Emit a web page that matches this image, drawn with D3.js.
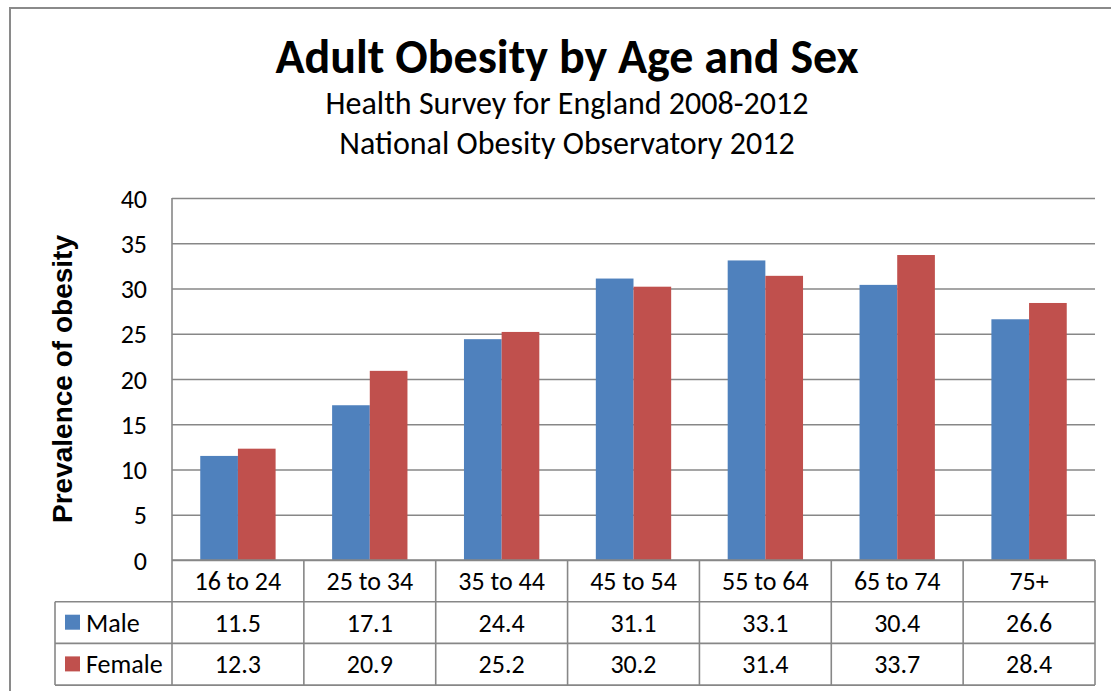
<!DOCTYPE html>
<html>
<head>
<meta charset="utf-8">
<script src="https://cdnjs.cloudflare.com/ajax/libs/d3/7.8.5/d3.min.js"></script>
<style>
  body { margin: 0; background: #fff; }
  svg { display: block; }
  text { fill: #000; }
</style>
</head>
<body>
<script>
const categories = ['16 to 24', '25 to 34', '35 to 44', '45 to 54', '55 to 64', '65 to 74', '75+'];
const seriesNames = ['Male', 'Female'];
const maleValues = [11.5, 17.1, 24.4, 31.1, 33.1, 30.4, 26.6];
const femaleValues = [12.3, 20.9, 25.2, 30.2, 31.4, 33.7, 28.4];
const yTicks = [0, 5, 10, 15, 20, 25, 30, 35, 40];

const colors = { Male: '#4F81BD', Female: '#C0504D' };
const gridColor = '#878787';
const calibri = "Carlito, Calibri, Lato, sans-serif";

const width = 1111, height = 691;
const plot = { left: 172, right: 1095, top: 198, bottom: 560 };
const tableLeft = 55;
const rowH = 41.7;

const svg = d3.select('body').append('svg')
  .attr('width', width)
  .attr('height', height);

// outer chart border (right and bottom run off the picture)
svg.append('rect')
  .attr('x', 10).attr('y', 8)
  .attr('width', 1200).attr('height', 800)
  .attr('fill', 'none')
  .attr('stroke', '#8a8a8a')
  .attr('stroke-width', 2);

// titles
svg.append('text')
  .attr('x', 567).attr('y', 73)
  .attr('text-anchor', 'middle')
  .style('font-family', calibri)
  .style('font-weight', 'bold')
  .style('font-size', '48px')
  .text('Adult Obesity by Age and Sex');

const subs = ['Health Survey for England 2008-2012', 'National Obesity Observatory 2012'];
svg.selectAll('.sub').data(subs).enter()
  .append('text')
  .attr('class', 'sub')
  .attr('x', 567)
  .attr('y', (d, i) => 114 + i * 40)
  .attr('text-anchor', 'middle')
  .style('font-family', calibri)
  .style('font-size', '32px')
  .text(d => d);

const x = d3.scaleBand()
  .domain(categories)
  .range([plot.left, plot.right])
  .padding(0);

const x1 = d3.scaleBand()
  .domain(seriesNames)
  .range([0, x.bandwidth()])
  .paddingInner(0)
  .paddingOuter(0.75);

const y = d3.scaleLinear()
  .domain([0, 40])
  .range([plot.bottom, plot.top]);

// gridlines
const yAxis = d3.axisLeft(y)
  .tickValues(yTicks)
  .tickSize(-(plot.right - plot.left))
  .tickPadding(25)
  .tickFormat(d3.format('d'));

const yg = svg.append('g')
  .attr('transform', `translate(${plot.left},0)`)
  .call(yAxis);
yg.select('.domain').remove();
yg.selectAll('line')
  .attr('stroke', gridColor)
  .attr('stroke-width', 1.6);
yg.selectAll('text')
  .style('font-family', calibri)
  .style('font-size', '26px')
  .attr('dy', '0.35em');

// left axis line
svg.append('line')
  .attr('x1', plot.left).attr('x2', plot.left)
  .attr('y1', plot.top).attr('y2', plot.bottom)
  .attr('stroke', gridColor)
  .attr('stroke-width', 1.6);

// y axis title
svg.append('text')
  .attr('transform', `translate(72,379) rotate(-90)`)
  .attr('text-anchor', 'middle')
  .style('font-family', "'Liberation Sans', Arial, sans-serif")
  .style('font-weight', 'bold')
  .style('font-size', '28px')
  .text('Prevalence of obesity');

// bars
const rows = categories.map((c, i) => ({ cat: c, Male: maleValues[i], Female: femaleValues[i] }));

const groups = svg.append('g').selectAll('g')
  .data(rows).enter()
  .append('g')
  .attr('transform', d => `translate(${x(d.cat)},0)`);

groups.selectAll('rect')
  .data(d => seriesNames.map(s => ({ s, v: d[s] })))
  .enter()
  .append('rect')
  .attr('x', d => x1(d.s))
  .attr('width', x1.bandwidth())
  .attr('y', d => y(d.v))
  .attr('height', d => y(0) - y(d.v))
  .attr('fill', d => colors[d.s]);

// bottom axis line (drawn over bars)
svg.append('line')
  .attr('x1', plot.left).attr('x2', plot.right)
  .attr('y1', plot.bottom).attr('y2', plot.bottom)
  .attr('stroke', gridColor)
  .attr('stroke-width', 1.6);

// data table
const table = svg.append('g');
const rowY = [plot.bottom, plot.bottom + rowH, plot.bottom + 2 * rowH, plot.bottom + 3 * rowH];

rowY.slice(1).forEach(yy => {
  table.append('line')
    .attr('x1', tableLeft).attr('x2', plot.right)
    .attr('y1', yy).attr('y2', yy)
    .attr('stroke', gridColor).attr('stroke-width', 1.6);
});

const bounds = categories.map(c => x(c)).concat([plot.right]);
table.selectAll('.vline').data(bounds).enter()
  .append('line')
  .attr('x1', d => d).attr('x2', d => d)
  .attr('y1', plot.bottom).attr('y2', rowY[3])
  .attr('stroke', gridColor).attr('stroke-width', 1.6);

table.append('line')
  .attr('x1', tableLeft).attr('x2', tableLeft)
  .attr('y1', rowY[1]).attr('y2', rowY[3])
  .attr('stroke', gridColor).attr('stroke-width', 1.6);

// category labels
table.selectAll('.cat').data(categories).enter()
  .append('text')
  .attr('x', d => x(d) + x.bandwidth() / 2)
  .attr('y', rowY[0] + rowH / 2)
  .attr('dy', '0.35em')
  .attr('text-anchor', 'middle')
  .style('font-family', calibri)
  .style('font-size', '26px')
  .text(d => d);

// value rows with legend keys
[maleValues, femaleValues].forEach((vals, r) => {
  const top = rowY[r + 1];
  const name = seriesNames[r];
  table.append('rect')
    .attr('x', 65).attr('y', top + 13)
    .attr('width', 15).attr('height', 15)
    .attr('fill', colors[name]);
  table.append('text')
    .attr('x', 86).attr('y', top + rowH / 2)
    .attr('dy', '0.35em')
    .style('font-family', calibri)
    .style('font-size', '26px')
    .text(name);
  table.selectAll('.v' + r).data(vals).enter()
    .append('text')
    .attr('x', (d, i) => x(categories[i]) + x.bandwidth() / 2)
    .attr('y', top + rowH / 2)
    .attr('dy', '0.35em')
    .attr('text-anchor', 'middle')
    .style('font-family', calibri)
    .style('font-size', '26px')
    .text(d => d.toFixed(1));
});
</script>
</body>
</html>
